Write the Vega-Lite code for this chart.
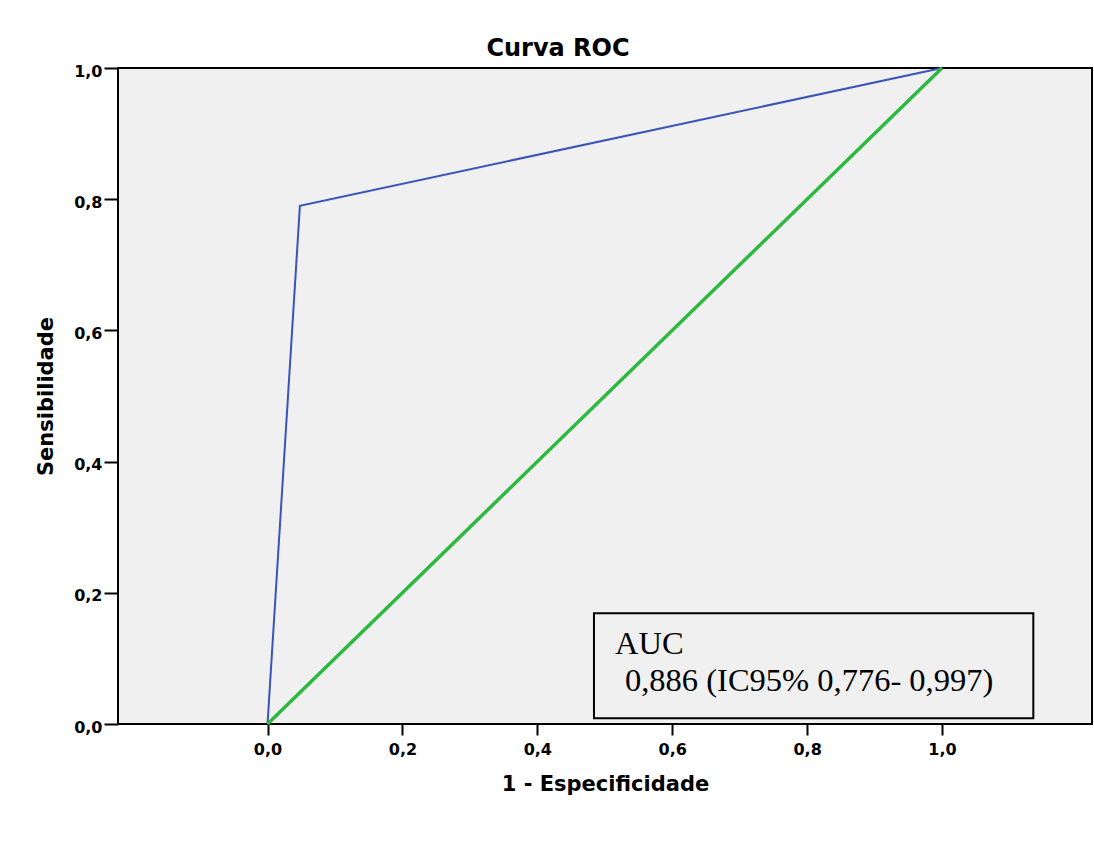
{
  "$schema": "https://vega.github.io/schema/vega-lite/v6.json",
  "autosize": {"type": "none"},
  "width": 974,
  "height": 656,
  "padding": {"left": 118, "top": 68, "right": 2, "bottom": 133},
  "background": "white",
  "title": {
    "text": "Curva ROC",
    "font": "DejaVu Sans",
    "fontWeight": "bold",
    "fontSize": 24,
    "color": "black",
    "anchor": "middle",
    "baseline": "alphabetic",
    "offset": 11,
    "dx": -47,
    "dy": 30
  },
  "datasets": {
    "roc": [
      {"fpr": 0.0, "tpr": 0.0},
      {"fpr": 0.048, "tpr": 0.79},
      {"fpr": 1.0, "tpr": 1.0}
    ],
    "ref": [
      {"fpr": 0.0, "tpr": 0.0},
      {"fpr": 1.0, "tpr": 1.0}
    ],
    "box": [
      {"x1": 0.484, "x2": 1.1354, "y1": 0.0087, "y2": 0.1688}
    ],
    "labels": [
      {"x": 0.5152, "y": 0.1067, "label": "AUC"},
      {"x": 0.530, "y": 0.0503, "label": "0,886 (IC95% 0,776- 0,997)"}
    ]
  },
  "config": {
    "view": {"fill": "#f0f0f0", "stroke": "black", "strokeWidth": 2},
    "axis": {
      "grid": false,
      "domain": false,
      "tickColor": "black",
      "tickWidth": 2,
      "labelFont": "DejaVu Sans",
      "labelFontWeight": "bold",
      "labelFontSize": 16,
      "labelColor": "black",
      "titleFont": "DejaVu Sans",
      "titleFontWeight": "bold",
      "titleFontSize": 21,
      "titleColor": "black"
    }
  },
  "layer": [
    {
      "data": {"name": "roc"},
      "mark": {"type": "line", "color": "#3a55b5", "strokeWidth": 2},
      "encoding": {
        "x": {
          "field": "fpr",
          "type": "quantitative",
          "scale": {"domain": [-0.2217, 1.2224], "nice": false, "zero": false},
          "axis": {
            "title": "1 - Especificidade",
            "values": [0, 0.2, 0.4, 0.6, 0.8, 1.0],
            "labelExpr": "replace(format(datum.value, '.1f'), '.', ',')",
            "tickSize": 11,
            "labelPadding": 6,
            "titlePadding": 16
          }
        },
        "y": {
          "field": "tpr",
          "type": "quantitative",
          "scale": {"domain": [0, 1], "nice": false},
          "axis": {
            "title": "Sensibilidade",
            "values": [0, 0.2, 0.4, 0.6, 0.8, 1.0],
            "labelExpr": "replace(format(datum.value, '.1f'), '.', ',')",
            "tickSize": 14,
            "labelPadding": 2,
            "labelOffset": 3,
            "titlePadding": 17
          }
        }
      }
    },
    {
      "data": {"name": "ref"},
      "mark": {"type": "line", "color": "#2db840", "strokeWidth": 3.5},
      "encoding": {
        "x": {"field": "fpr", "type": "quantitative"},
        "y": {"field": "tpr", "type": "quantitative"}
      }
    },
    {
      "data": {"name": "box"},
      "mark": {"type": "rect", "fill": "#f0f0f0", "stroke": "black", "strokeWidth": 2},
      "encoding": {
        "x": {"field": "x1", "type": "quantitative"},
        "x2": {"field": "x2"},
        "y": {"field": "y1", "type": "quantitative"},
        "y2": {"field": "y2"}
      }
    },
    {
      "data": {"name": "labels"},
      "mark": {"type": "text", "font": "Liberation Serif", "fontSize": 32.5, "align": "left", "baseline": "alphabetic", "color": "black"},
      "encoding": {
        "x": {"field": "x", "type": "quantitative"},
        "y": {"field": "y", "type": "quantitative"},
        "text": {"field": "label"}
      }
    }
  ]
}
